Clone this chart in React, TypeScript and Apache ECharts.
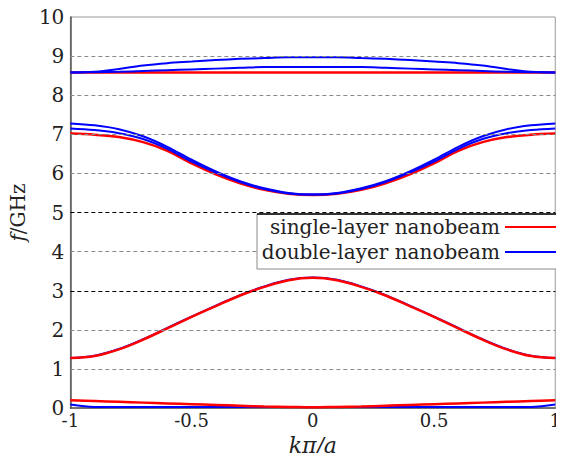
import React, { useEffect, useRef } from "react";
import * as echarts from "echarts";

const FONT = "DejaVu Serif";

const xs = [-1, -0.9, -0.8, -0.7, -0.6, -0.5, -0.4, -0.3, -0.2, -0.1, 0, 0.1, 0.2, 0.3, 0.4, 0.5, 0.6, 0.7, 0.8, 0.9, 1];
const xTicks = ["-1", "-0.5", "0", "0.5", "1"];

const singleBand0 = [0.2, 0.18, 0.16, 0.14, 0.12, 0.1, 0.08, 0.06, 0.04, 0.03, 0.02, 0.03, 0.04, 0.06, 0.08, 0.1, 0.12, 0.14, 0.16, 0.18, 0.2];
const singleBand1 = [1.28, 1.33, 1.5, 1.75, 2.04, 2.33, 2.61, 2.88, 3.1, 3.27, 3.33, 3.27, 3.1, 2.88, 2.61, 2.33, 2.04, 1.75, 1.5, 1.33, 1.28];
const singleBand2 = [7.02, 6.99, 6.93, 6.8, 6.58, 6.26, 5.98, 5.75, 5.58, 5.48, 5.45, 5.48, 5.58, 5.75, 5.98, 6.26, 6.58, 6.8, 6.93, 6.99, 7.02];
const singleBand3 = [8.58, 8.58, 8.58, 8.58, 8.58, 8.58, 8.58, 8.58, 8.58, 8.58, 8.58, 8.58, 8.58, 8.58, 8.58, 8.58, 8.58, 8.58, 8.58, 8.58, 8.58];

const doubleBand0 = [0.09, 0.03, 0.03, 0.03, 0.03, 0.03, 0.03, 0.03, 0.03, 0.03, 0.03, 0.03, 0.03, 0.03, 0.03, 0.03, 0.03, 0.03, 0.03, 0.03, 0.09];
const doubleBand1 = [1.28, 1.34, 1.51, 1.76, 2.05, 2.34, 2.62, 2.89, 3.11, 3.28, 3.34, 3.28, 3.11, 2.89, 2.62, 2.34, 2.05, 1.76, 1.51, 1.34, 1.28];
const doubleBand2a = [7.28, 7.23, 7.13, 6.95, 6.68, 6.35, 6.05, 5.8, 5.62, 5.5, 5.46, 5.5, 5.62, 5.8, 6.05, 6.35, 6.68, 6.95, 7.13, 7.23, 7.28];
const doubleBand2b = [7.15, 7.11, 7.03, 6.88, 6.63, 6.3, 6.02, 5.78, 5.6, 5.49, 5.46, 5.49, 5.6, 5.78, 6.02, 6.3, 6.63, 6.88, 7.03, 7.11, 7.15];
const doubleBand3a = [8.58, 8.6, 8.67, 8.76, 8.82, 8.86, 8.9, 8.93, 8.95, 8.97, 8.97, 8.97, 8.95, 8.93, 8.9, 8.86, 8.82, 8.76, 8.67, 8.6, 8.58];
const doubleBand3b = [8.58, 8.59, 8.6, 8.62, 8.64, 8.66, 8.68, 8.7, 8.72, 8.72, 8.72, 8.72, 8.72, 8.7, 8.68, 8.66, 8.64, 8.62, 8.6, 8.59, 8.58];

const gridValues = [1, 2, 3, 4, 5, 6, 7, 8, 9];
const darkGridValues = [3, 5];

const SINGLE = "single-layer nanobeam";
const DOUBLE = "double-layer nanobeam";
const RED = "#ff0000";
const BLUE = "#0000ff";

function pairs(ys: number[]) {
  return xs.map((x, i) => [x, ys[i]]);
}

export default function App() {
  const ref = useRef<HTMLDivElement>(null);
  useEffect(() => {
    if (!ref.current) return;
    const chart = echarts.init(ref.current, null, { renderer: "svg" });
    const mkSeries = (name: string, color: string, ys: number[], width: number, extra: any = {}) => ({
      type: "line",
      name,
      data: pairs(ys),
      showSymbol: false,
      symbol: "none",
      smooth: 0.35,
      lineStyle: { color, width },
      itemStyle: { color },
      z: 3,
      ...extra,
    });
    const markLine = {
      silent: true,
      symbol: "none",
      label: { show: false },
      animation: false,
      data: gridValues.map((v) => ({
        yAxis: v,
        lineStyle: {
          color: darkGridValues.includes(v) ? "#000000" : "#8a8a8a",
          type: [4, 3],
          width: 1,
        },
      })),
    };
    chart.setOption({
      animation: false,
      backgroundColor: "#ffffff",
      textStyle: { fontFamily: FONT },
      grid: {
        left: 61,
        right: 4,
        top: 17,
        bottom: 50,
        show: true,
        borderColor: "#9a9a9a",
        borderWidth: 1,
        backgroundColor: "transparent",
      },
      xAxis: {
        type: "value",
        min: -1,
        max: 1,
        interval: 0.5,
        name: "kπ/a",
        nameLocation: "middle",
        nameGap: 22,
        nameTextStyle: { fontFamily: FONT, fontSize: 22, fontStyle: "italic", color: "#222" },
        axisLine: { show: true, onZero: false, lineStyle: { color: "#555", width: 1.5 } },
        axisTick: { show: false },
        splitLine: { show: false },
        axisLabel: {
          fontFamily: FONT,
          fontSize: 18,
          color: "#222",
          margin: 3,
          formatter: (v: number) => {
            const idx = Math.round((v + 1) / 0.5);
            return xTicks[idx] ?? String(v);
          },
        },
      },
      yAxis: {
        type: "value",
        min: 0,
        max: 10,
        interval: 1,
        name: "{i|f}/GHz",
        nameLocation: "middle",
        nameGap: 27,
        nameTextStyle: {
          fontFamily: FONT,
          fontSize: 20,
          color: "#222",
          rich: { i: { fontFamily: FONT, fontSize: 20, fontStyle: "italic", color: "#222" } },
        },
        axisLine: { show: true, onZero: false, lineStyle: { color: "#555", width: 1.5 } },
        axisTick: { show: false },
        splitLine: { show: false },
        axisLabel: { fontFamily: FONT, fontSize: 20, color: "#222", margin: 6 },
      },
      legend: {
        data: [SINGLE, DOUBLE],
        orient: "vertical",
        right: 7,
        top: 217,
        align: "right",
        icon: "rect",
        itemWidth: 52,
        itemHeight: 2,
        itemGap: 5,
        padding: 0,
        z: 10,
        textStyle: { fontFamily: FONT, fontSize: 20, color: "#222", padding: [0, 0, 0, 0] },
      },
      graphic: [
        {
          type: "rect",
          z: 8,
          shape: { x: 257, y: 214, width: 303, height: 55 },
          style: { fill: "#ffffff", stroke: "#8a8a8a", lineWidth: 1 },
        },
        {
          type: "line",
          z: 9,
          shape: { x1: 257, y1: 214, x2: 560, y2: 214 },
          style: { stroke: "#000000", lineWidth: 1.5 },
        },
      ],
      series: [
        mkSeries(DOUBLE, BLUE, doubleBand0, 2),
        mkSeries(DOUBLE, BLUE, doubleBand1, 2),
        mkSeries(SINGLE, RED, singleBand0, 2.5, { markLine }),
        mkSeries(SINGLE, RED, singleBand1, 2.5),
        mkSeries(SINGLE, RED, singleBand2, 2.5),
        mkSeries(SINGLE, RED, singleBand3, 2.5),
        mkSeries(DOUBLE, BLUE, doubleBand2a, 2),
        mkSeries(DOUBLE, BLUE, doubleBand2b, 2),
        mkSeries(DOUBLE, BLUE, doubleBand3a, 2),
        mkSeries(DOUBLE, BLUE, doubleBand3b, 2),
      ],
    });
    return () => chart.dispose();
  }, []);
  return <div ref={ref} style={{ width: 564, height: 461, margin: -8 }} />;
}
